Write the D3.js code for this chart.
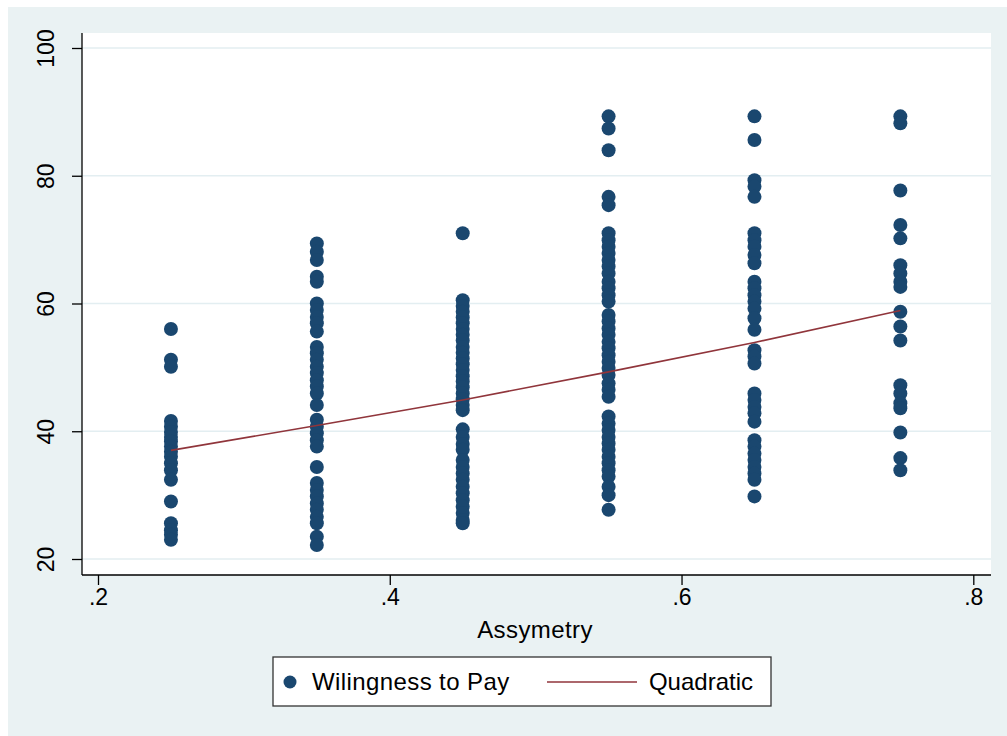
<!DOCTYPE html>
<html>
<head>
<meta charset="utf-8">
<script src="https://cdn.jsdelivr.net/npm/d3@7"></script>
<style>
  html, body { margin: 0; padding: 0; background: #fff; }
  text { font-family: "Liberation Sans", Arial, Helvetica, sans-serif; fill: #000; }
</style>
</head>
<body>
<div id="chart"></div>
<script>
// asymmetry levels
const xLevels = [0.25, 0.35, 0.45, 0.55, 0.65, 0.75];

// willingness to pay, one list per asymmetry level
const wtp025 = [56.0, 51.2, 50.1, 41.6, 40.7, 39.9, 39.1, 38.4, 37.6, 36.8, 36.0, 35.0, 33.9, 32.4,
                29.0, 25.6, 24.5, 23.8, 23.0];
const wtp035 = [69.4, 68.1, 66.8, 64.2, 63.4, 60.0, 59.0, 57.9, 56.9, 55.6, 53.2, 52.2, 51.2, 50.1,
                49.1, 48.0, 47.0, 45.9, 44.1, 41.8, 40.7, 39.7, 38.6, 37.6, 34.4, 31.9, 30.8, 29.8,
                28.7, 27.7, 26.6, 25.6, 23.5, 22.2];
const wtp045 = [71.0, 60.5, 59.6, 58.7, 57.8, 56.9, 56.0, 55.1, 54.2, 53.2, 52.3, 51.4, 50.5, 49.6,
                48.6, 47.8, 46.9, 45.9, 45.0, 44.1, 43.3, 40.3, 39.1, 38.0, 37.1, 35.5, 34.4, 33.4,
                32.4, 31.3, 30.3, 29.2, 28.2, 27.2, 26.1, 25.6];
const wtp055 = [89.3, 87.4, 84.0, 76.7, 75.4, 71.0, 69.9, 68.9, 67.9, 66.8, 65.8, 64.7, 63.4, 62.4,
                61.3, 60.3, 58.2, 57.2, 56.1, 55.1, 54.0, 53.0, 51.9, 50.9, 49.9, 48.8, 47.5, 46.5,
                45.4, 42.3, 41.2, 40.2, 39.1, 38.1, 37.1, 36.0, 35.0, 33.9, 32.9, 31.3, 30.0, 27.7];
const wtp065 = [89.3, 85.6, 79.3, 78.3, 76.7, 71.0, 69.9, 68.9, 67.6, 66.3, 63.4, 62.4, 61.3, 60.3,
                59.2, 57.7, 55.9, 52.7, 51.7, 50.6, 45.9, 44.9, 43.8, 42.8, 41.5, 38.6, 37.6, 36.5,
                35.5, 34.4, 33.4, 32.4, 29.8];
const wtp075 = [89.3, 88.2, 77.7, 72.3, 70.2, 66.0, 64.7, 63.4, 62.6, 58.7, 56.4, 54.2, 47.2, 45.9,
                44.4, 43.6, 39.8, 35.8, 33.9];
const wtpByLevel = [wtp025, wtp035, wtp045, wtp055, wtp065, wtp075];

// quadratic fit values read at each level
const qfitValues = [37.0, 40.9, 44.9, 49.3, 53.9, 58.9];

const xTicks = [0.2, 0.4, 0.6, 0.8];
const xTickLabels = [".2", ".4", ".6", ".8"];
const yTicks = [20, 40, 60, 80, 100];
const xTitle = "Assymetry";
const legendLabels = ["Wilingness to Pay", "Quadratic"];

const W = 1007, H = 736;
const plot = { left: 82, right: 991, top: 33, bottom: 575 };
const navy = "#1a476f", maroon = "#90353b", bg = "#eaf2f3";

const svg = d3.select("#chart").append("svg")
  .attr("width", W).attr("height", H);

// outer graph region
svg.append("rect").attr("x", 8).attr("y", 7).attr("width", W - 8).attr("height", H - 7)
  .attr("fill", bg);
svg.append("rect")
  .attr("x", plot.left).attr("y", plot.top)
  .attr("width", plot.right - plot.left).attr("height", plot.bottom - plot.top)
  .attr("fill", "#fff");

const x = d3.scaleLinear().domain([0.2, 0.8]).range([98, 973.3]);
const y = d3.scaleLinear().domain([20, 100]).range([559, 48]);

// gridlines
svg.append("g").selectAll("line").data(yTicks).join("line")
  .attr("x1", plot.left).attr("x2", plot.right)
  .attr("y1", d => y(d)).attr("y2", d => y(d))
  .attr("stroke", "#e3eef1").attr("stroke-width", 1.5);

// points
const pts = [];
wtpByLevel.forEach((arr, i) => arr.forEach(v => pts.push({ x: xLevels[i], y: v })));
svg.append("g").selectAll("circle").data(pts).join("circle")
  .attr("cx", d => x(d.x)).attr("cy", d => y(d.y)).attr("r", 7)
  .attr("fill", navy);

// quadratic fit
const fit = xLevels.map((v, i) => [v, qfitValues[i]]);
svg.append("path").datum(fit)
  .attr("d", d3.line().x(d => x(d[0])).y(d => y(d[1])).curve(d3.curveNatural))
  .attr("fill", "none").attr("stroke", maroon).attr("stroke-width", 1.6);

// y axis
const yAxis = svg.append("g").attr("transform", `translate(${plot.left},0)`)
  .call(d3.axisLeft(y).tickValues(yTicks).tickSize(10).tickSizeOuter(0).tickFormat(d3.format("d")));
yAxis.select(".domain").attr("d", `M0,${plot.top}V${plot.bottom}`).attr("stroke", "#000").attr("stroke-width", 1.3);
yAxis.selectAll(".tick line").attr("stroke", "#000").attr("stroke-width", 1.3);
yAxis.selectAll(".tick text")
  .attr("x", 0).attr("dy", 0)
  .attr("transform", "translate(-28,0) rotate(-90)")
  .attr("text-anchor", "middle")
  .style("font-size", "23px");

// x axis
const xAxis = svg.append("g").attr("transform", `translate(0,${plot.bottom})`)
  .call(d3.axisBottom(x).tickValues(xTicks).tickSize(10).tickSizeOuter(0)
    .tickFormat((d, i) => xTickLabels[i]));
xAxis.select(".domain").attr("d", `M${plot.left},0H${plot.right}`).attr("stroke", "#000").attr("stroke-width", 1.3);
xAxis.selectAll(".tick line").attr("stroke", "#000").attr("stroke-width", 1.3);
xAxis.selectAll(".tick text").attr("y", 14).style("font-size", "23px");
xAxis.selectAll("text").attr("fill", "#000");
yAxis.selectAll("text").attr("fill", "#000");

svg.append("text").attr("x", 535).attr("y", 638)
  .attr("text-anchor", "middle").style("font-size", "24px").style("letter-spacing", "0.4px")
  .text(xTitle);

// legend
const lg = svg.append("g");
lg.append("rect").attr("x", 273).attr("y", 657).attr("width", 498).attr("height", 49)
  .attr("fill", "#fff").attr("stroke", "#333").attr("stroke-width", 1.3);
lg.append("circle").attr("cx", 290).attr("cy", 682).attr("r", 6.5).attr("fill", navy);
lg.append("text").attr("x", 312).attr("y", 690).style("font-size", "24px")
  .style("letter-spacing", "0.4px").text(legendLabels[0]);
lg.append("line").attr("x1", 547).attr("x2", 637).attr("y1", 682).attr("y2", 682)
  .attr("stroke", maroon).attr("stroke-width", 1.6);
lg.append("text").attr("x", 753).attr("y", 690).attr("text-anchor", "end")
  .style("font-size", "24px").text(legendLabels[1]);
</script>
</body>
</html>
